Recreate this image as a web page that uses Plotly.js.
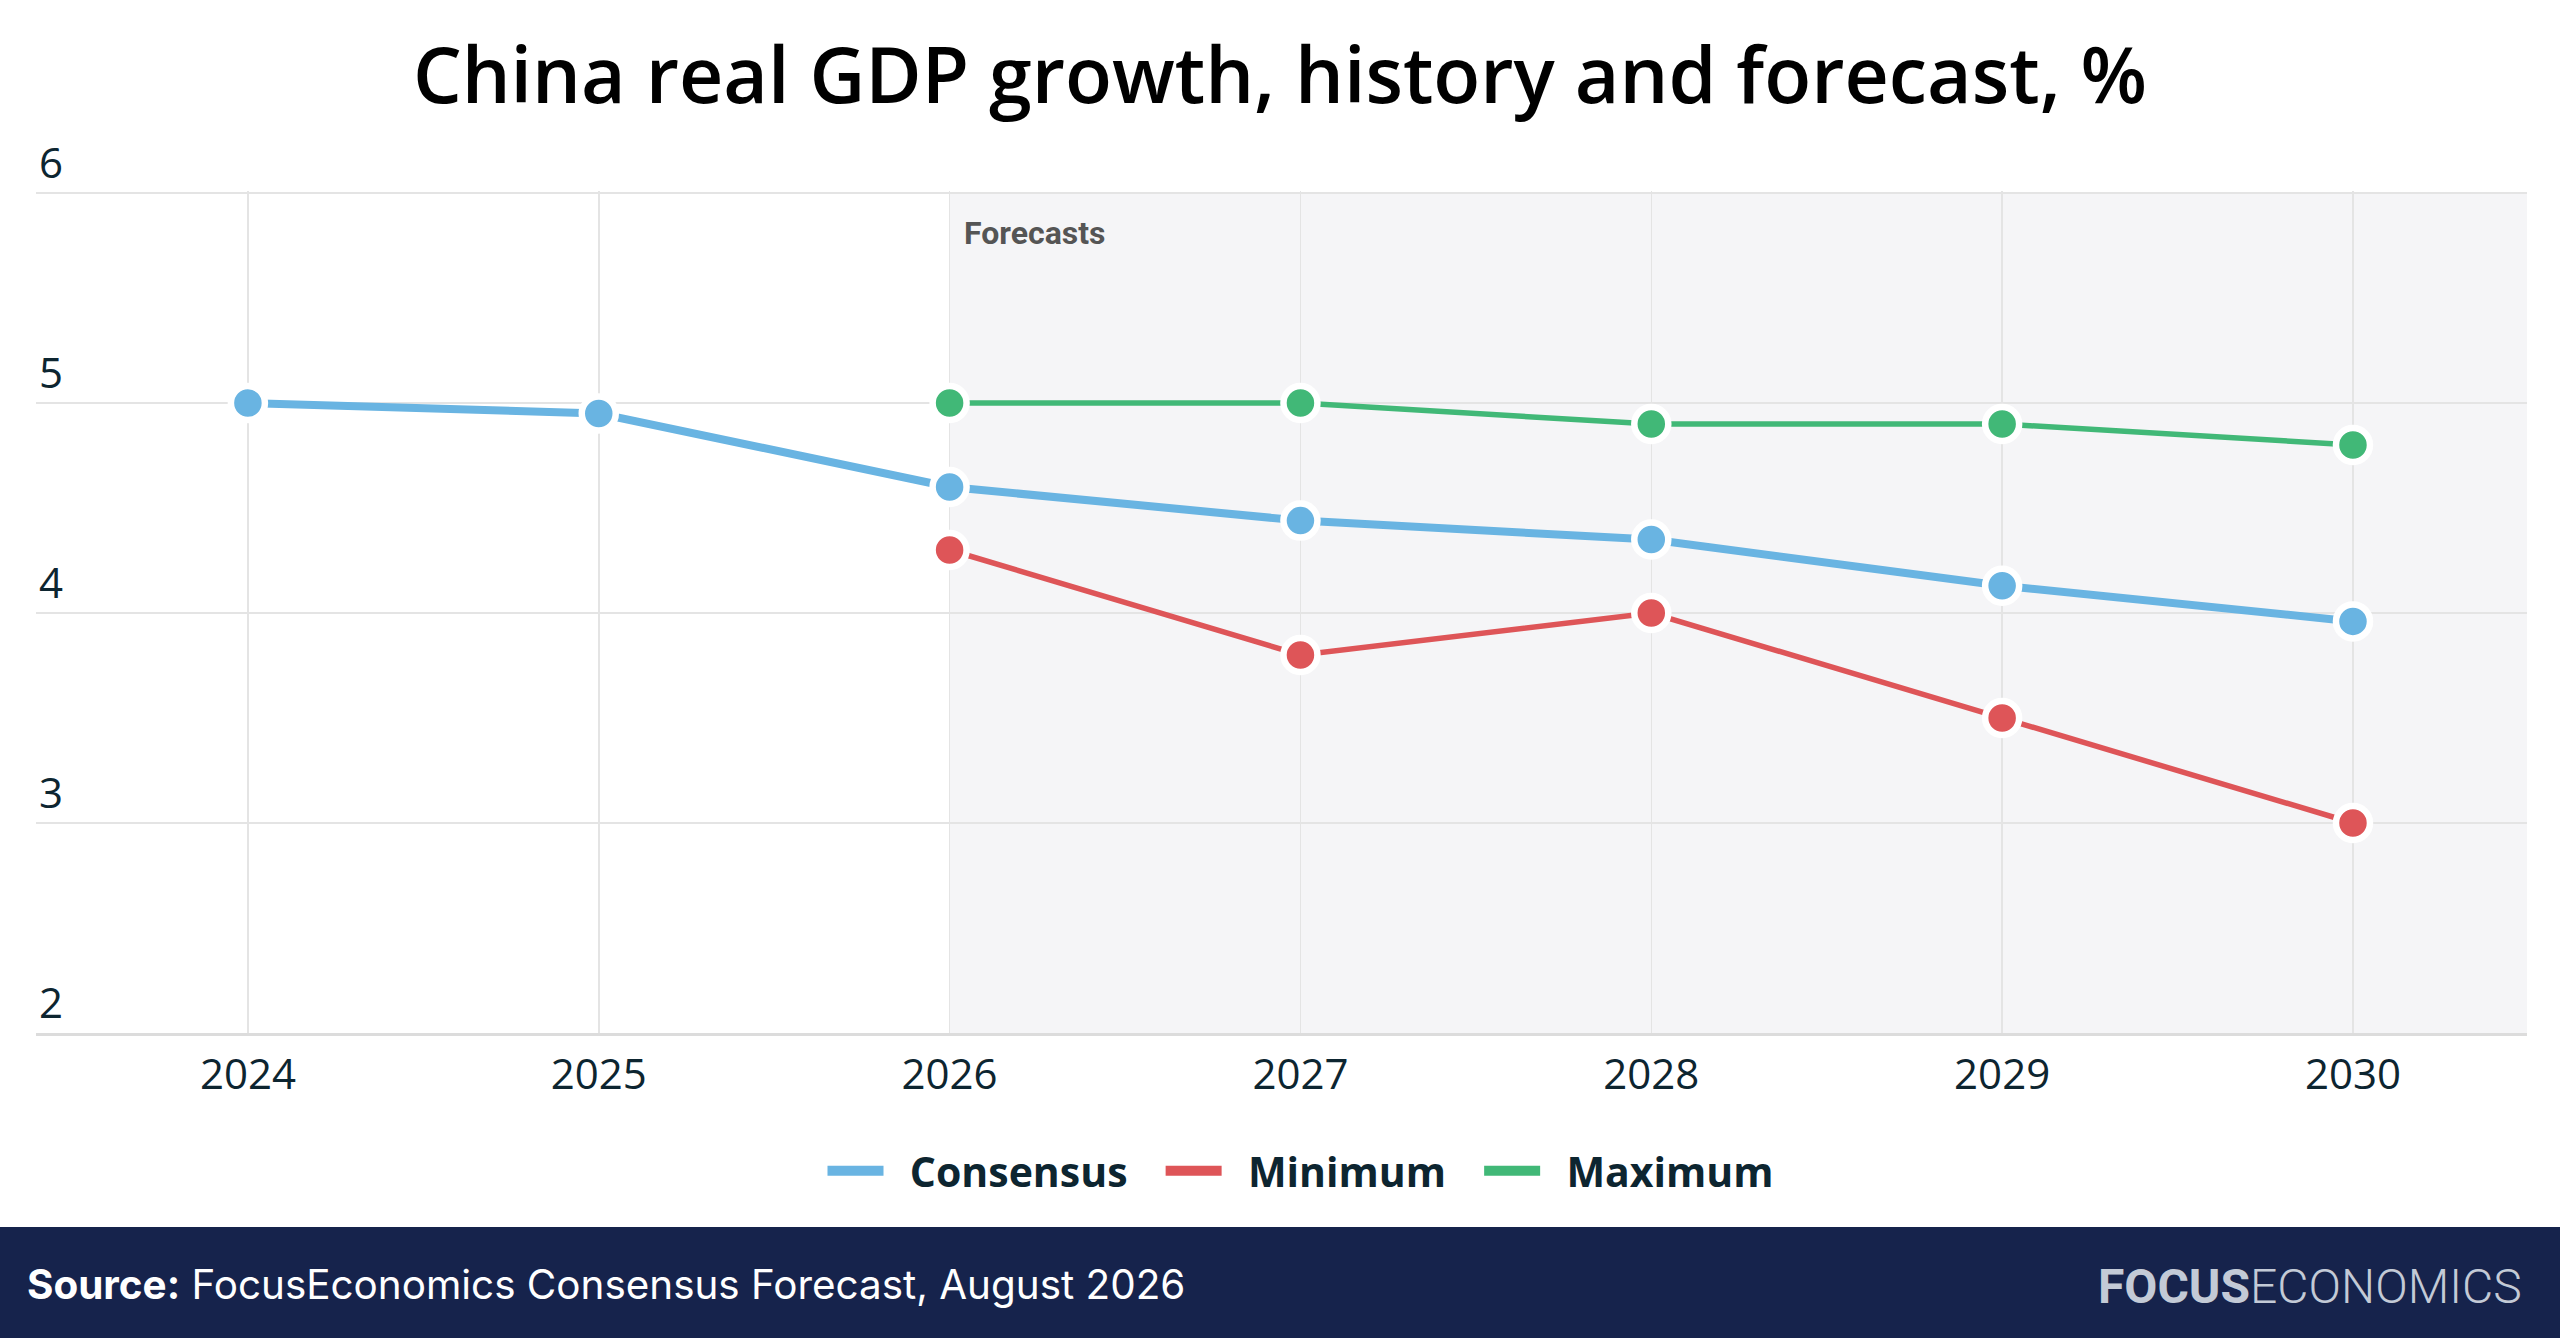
<!DOCTYPE html>
<html>
<head>
<meta charset="utf-8">
<script src="https://cdn.plot.ly/plotly-3.0.1.min.js"></script>
<style>
html, body { margin: 0; padding: 0; background: #ffffff; }
#chart { width: 2560px; height: 1338px; }
</style>
</head>
<body>
<div id="chart"></div>
<script>
// ---- Data ----
var years = [2024, 2025, 2026, 2027, 2028, 2029, 2030];
var yearLabels = ["2024", "2025", "2026", "2027", "2028", "2029", "2030"];
var forecastYears = [2026, 2027, 2028, 2029, 2030];
var consensus = [5.0, 4.95, 4.6, 4.44, 4.35, 4.13, 3.96];
var minimum = [4.3, 3.8, 4.0, 3.5, 3.0];
var maximum = [5.0, 5.0, 4.9, 4.9, 4.8];
var yTicks = [2, 3, 4, 5, 6];
var seriesNames = ["Consensus", "Minimum", "Maximum"];
var titleText = "China real GDP growth, history and forecast, %";
var forecastLabel = "Forecasts";
var sourceLabel = "Source:";
var sourceText = "FocusEconomics Consensus Forecast, August 2026";
var logoBold = "FOCUS";
var logoLight = "ECONOMICS";

// ---- Styles ----
var W = 2560, H = 1338;
var M = {l: 36, r: 33, t: 191, b: 305};
var PW = W - M.l - M.r, PH = H - M.t - M.b;
function px2x(p) { return (p - M.l) / PW; }
function px2y(p) { return 1 - (p - M.t) / PH; }

var colBlue = "#69b4e2", colRed = "#de5558", colGreen = "#41b877";
var textCol = "#0d2530";
var xRange = [2023.396, 2030.496];
var yRange = [2, 6 + 2 / 210];

function series(x, y, color, width, name) {
  return {
    x: x, y: y, name: name, type: "scatter", mode: "lines+markers",
    showlegend: false,
    line: {color: color, width: width},
    marker: {size: 34, color: color, line: {color: "#ffffff", width: 6.5}},
    cliponaxis: false
  };
}
var NB = "\u00A0";
function legendItem(color, name) {
  return {
    x: [null], y: [null], name: NB + NB + name + NB + NB + "\u2009", type: "scatter", mode: "lines",
    line: {color: color, width: 10}, showlegend: true
  };
}

var data = [
  series(forecastYears, minimum, colRed, 5.5, seriesNames[1]),
  series(forecastYears, maximum, colGreen, 5.5, seriesNames[2]),
  series(years, consensus, colBlue, 8, seriesNames[0]),
  legendItem(colBlue, seriesNames[0]),
  legendItem(colRed, seriesNames[1]),
  legendItem(colGreen, seriesNames[2])
];

var layout = {
  width: W, height: H,
  margin: M,
  paper_bgcolor: "#ffffff",
  plot_bgcolor: "#ffffff",
  font: {family: "Open Sans, sans-serif", color: textCol},
  title: {
    text: titleText,
    font: {family: "Open Sans, sans-serif", size: 77, color: "#000000", weight: 600},
    x: 0.5, xref: "container", xanchor: "center",
    y: 1 - 76 / H, yref: "container", yanchor: "middle"
  },
  xaxis: {
    range: xRange,
    tickvals: years, ticktext: yearLabels,
    showgrid: true, gridcolor: "#e4e4e4", gridwidth: 1.5,
    zeroline: false,
    showline: true, linecolor: "#dcdcdc", linewidth: 3,
    ticks: "", ticklabelstandoff: 3,
    tickfont: {family: "Open Sans, sans-serif", size: 42, color: textCol},
    fixedrange: true
  },
  yaxis: {
    range: yRange,
    tickvals: yTicks,
    showgrid: true, gridcolor: "#e4e4e4", gridwidth: 2,
    zeroline: false, showline: false,
    ticks: "", ticklabelposition: "inside top", ticklabeloverflow: "allow",
    tickfont: {family: "Open Sans, sans-serif", size: 42, color: textCol},
    fixedrange: true
  },
  legend: {
    orientation: "h",
    x: px2x(1315), xanchor: "center",
    y: px2y(1171), yanchor: "middle",
    font: {family: "Open Sans, sans-serif", size: 41, color: textCol, weight: 700},
    itemwidth: 56,
    bgcolor: "rgba(0,0,0,0)"
  },
  shapes: [
    {type: "rect", xref: "x", yref: "y", x0: forecastYears[0], x1: xRange[1], y0: yTicks[0], y1: yTicks[yTicks.length - 1],
     fillcolor: "#f5f5f7", line: {width: 0}, layer: "below"},
    {type: "rect", xref: "paper", yref: "paper", x0: px2x(0), x1: px2x(W), y0: px2y(1227), y1: px2y(H),
     fillcolor: "#16234c", line: {width: 0}, layer: "above"}
  ],
  annotations: [
    {text: forecastLabel, xref: "x", yref: "paper", x: forecastYears[0], y: px2y(233),
     xanchor: "left", yanchor: "middle", xshift: 12, showarrow: false,
     font: {family: "Roboto, sans-serif", size: 32, color: "#555555", weight: 700}},
    {text: "<b>" + sourceLabel + "</b> " + sourceText, xref: "paper", yref: "paper",
     x: px2x(25), y: px2y(1284), xanchor: "left", yanchor: "middle", showarrow: false,
     font: {family: "Inter, sans-serif", size: 40.4, color: "#ffffff"}},
    {text: "<b>" + logoBold + "</b><span style='font-weight:300'>" + logoLight + "</span>", xref: "paper", yref: "paper",
     x: px2x(2524), y: px2y(1286), xanchor: "right", yanchor: "middle", showarrow: false,
     font: {family: "Roboto, sans-serif", size: 48, color: "#c3cad6"}}
  ],
  hovermode: false
};

Plotly.newPlot("chart", data, layout, {staticPlot: true, displayModeBar: false});
</script>
</body>
</html>
